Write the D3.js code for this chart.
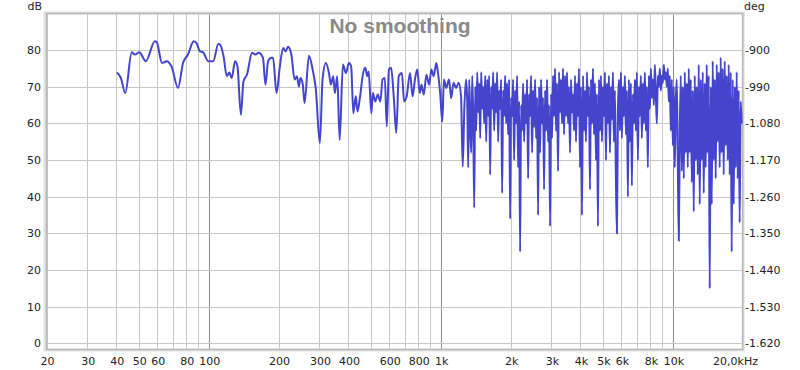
<!DOCTYPE html>
<html><head><meta charset="utf-8">
<script src="https://cdn.jsdelivr.net/npm/d3@7"></script>
<style>body{margin:0;background:#fff}svg{display:block}</style>
</head><body>
<svg id="c" width="800" height="370"></svg>
<script>
// ---- data ----
const title = "No smoothing";
const dbTicks = [0,10,20,30,40,50,60,70,80];
const degLabels = ["-1.620","-1.530","-1.440","-1.350","-1.260","-1.170","-1.080","-990","-900"];
const freqGrid = [20,30,40,50,60,70,80,90,100,200,300,400,500,600,700,800,900,1000,2000,3000,4000,5000,6000,7000,8000,9000,10000,20000];
const freqMajor = [100,1000,10000];
const freqLabelVals = [20,30,40,50,60,80,100,200,300,400,600,800,1000,2000,3000,4000,5000,6000,8000,10000,20000];
const freqLabelText = ["20","30","40","50","60","80","100","200","300","400","600","800","1k","2k","3k","4k","5k","6k","8k","10k","20,0kHz"];

// low-frequency part: explicit frequency / level pairs
const lowFreq = [40.2,41.8,43.7,46.6,48.1,50.2,53.6,58.6,59.7,62.9,65.9,69.1,73.8,77.5,81.4,86.2,88.5,91.6,94.6,99.5,104.6,110,112,115.9,119.7,122.7,125.6,129.9,133,137.6,141.2,146.1,153.8,158.9,164.3,171.3,175.6,180.3,186.3,189.4,196,202.6,209.4,214.3,219.7,227,234.6,240,244.6,248.7,254.4,258.8,270.4,281.4,289.2,301.2,309.4,320,330.6,336.2,344,349.7,358,366.7,378.7,390,402,411,420,430,438,448,463,473,482,489,502,510,522,535,549,561,574,585,598,611,627,643,659,680,695,713,737,756,774,792,812,826,845,867,891,911,932,957,973,995,1015,1032,1056,1085,1109,1135,1164,1195,1223,1243,1264,1285];
const lowDb = [73.9,72.5,68.3,79.4,78.8,79.4,77.0,82.4,82.2,76.5,77.0,75.6,69.7,76.5,78.8,82.4,82.0,79.7,79.4,77.0,77.0,81.7,81.5,78.3,72.9,73.9,72.4,77.0,75.6,62.4,71.5,73.3,79.3,78.8,79.3,77.9,70.6,77.0,77.9,77.9,68.3,75.6,80.6,79.7,80.9,78.8,72.0,72.9,70.1,72.4,70.6,65.6,78.5,74.2,69.7,54.6,72.0,76.5,73.3,70.6,72.9,68.3,72.9,55.5,76.1,73.8,76.5,75.6,62.8,67.4,63.3,66.9,73.8,75.2,72.9,74.2,62.8,68.3,66,67.9,66,72,72.4,59.2,74.7,75.2,67.4,57.4,72.9,73.8,66,67.4,73.8,67.4,72,74.7,68.3,70.6,67.9,73.3,70.6,74.7,72.9,76.5,73.8,67.9,60.5,72,69.7,72,66.9,71.1,69.7,71.1,67.4,48.2,64.6,72];

// high-frequency part: levels on a log grid starting at 1300 Hz, 70 points per octave
const hfStart = 1300;
const hfPointsPerOctave = 70;
const hfDb = [
66,48,72,60,52,73,62,37,70,58,
74,63,71,56,74,64,70,60,73,55,
72,62,73,46,70,64,74,58,71,63,
74,55,69,64,72,41,69,62,73,60,
71,57,72,34,67,62,72,50,69,60,
73,48,66,25,65,58,71,55,68,60,
72,45,68,62,73,52,69,59,72,56,
67,35,70,52,72,60,67,42,69,58,
72,55,65,32,68,56,73,62,75,58,
71,47,74,63,72,60,75,57,73,62,
74,60,70,52,72,63,68,58,73,55,
71,62,75,48,70,35,73,58,69,55,
74,62,70,42,72,60,75,57,71,50,
68,32,72,58,73,55,70,62,74,50,
71,60,73,52,70,61,74,55,69,45,
30,63,72,58,74,56,70,62,73,57,
69,40,72,55,71,43,68,60,72,58,
74,50,70,62,73,56,71,60,74,58,
70,48,73,64,75,67,72,65,76,68,
60,73,70,75,69,73,71,76,72,74,
70,75,66,73,58,72,54,70,48,66,
72,50,28,58,73,47,70,45,74,52,
71,48,75,52,72,44,69,36,73,50,
70,46,76,38,72,50,74,41,71,48,
76,52,73,15,70,38,77,50,72,45,
76,55,74,48,78,52,75,46,77,54,
73,50,76,46,74,25,72,38,70,48,
74,45,69,33,66,60];

// ---- build ----
const pts = lowFreq.map((f,i)=>({f, v: lowDb[i]}));
hfDb.forEach((v,i)=>pts.push({f: hfStart*Math.pow(2, i/hfPointsPerOctave), v}));

const svg = d3.select("#c");
const L=46.5, R=742.7, T=13.5, B=349.5;
const x = d3.scaleLog().domain([20,20000]).range([L,R]);
const y = d3.scaleLinear().domain([-1.64,90]).range([B,T]);
const font = "'DejaVu Sans', Verdana, sans-serif";

// grid
const g = svg.append("g");
g.selectAll("line.v").data(freqGrid).enter().append("line")
  .attr("x1",d=>Math.round(x(d))+0.5).attr("x2",d=>Math.round(x(d))+0.5)
  .attr("y1",T).attr("y2",B)
  .attr("stroke",d=>freqMajor.includes(d)?"#8c8c8c":"#c8c8c8").attr("stroke-width",1);
g.selectAll("line.h").data(dbTicks).enter().append("line")
  .attr("x1",L).attr("x2",R)
  .attr("y1",d=>Math.round(y(d))+0.5).attr("y2",d=>Math.round(y(d))+0.5)
  .attr("stroke","#c8c8c8").attr("stroke-width",1);

// frame
svg.append("rect").attr("x",L-1.5).attr("y",T-0.5).attr("width",R-L+2).attr("height",B-T+1)
  .attr("fill","none").attr("stroke","#e2e2e2").attr("stroke-width",3);
svg.append("rect").attr("x",L).attr("y",T).attr("width",R-L).attr("height",B-T)
  .attr("fill","none").attr("stroke","#b8b8b8").attr("stroke-width",1.5);

// curve
const line = d3.line().curve(d3.curveMonotoneX).x(d=>x(d.f)).y(d=>y(d.v));
svg.append("path").datum(pts).attr("d",line)
  .attr("fill","none").attr("stroke","#4444cc").attr("stroke-width",2).attr("stroke-linejoin","round");

// left labels
svg.selectAll("text.l").data(dbTicks).enter().append("text")
  .attr("x",41).attr("y",d=>y(d)+4).attr("text-anchor","end")
  .attr("font-family",font).attr("font-size",11).attr("fill","#222").text(d=>d);
svg.append("text").attr("x",42).attr("y",10).attr("text-anchor","end")
  .attr("font-family",font).attr("font-size",11).attr("fill","#222").text("dB");
// right labels
svg.selectAll("text.r").data(dbTicks).enter().append("text")
  .attr("x",745).attr("y",(d,i)=>y(d)+4).attr("text-anchor","start")
  .attr("font-family",font).attr("font-size",11).attr("fill","#222").text((d,i)=>degLabels[i]);
svg.append("text").attr("x",744).attr("y",10).attr("text-anchor","start")
  .attr("font-family",font).attr("font-size",11).attr("fill","#222").text("deg");
// bottom labels
svg.selectAll("text.b").data(freqLabelVals).enter().append("text")
  .attr("x",(d,i)=> d===20000 ? 758 : x(d)+1).attr("y",365)
  .attr("text-anchor",d=> d===20000 ? "end" : "middle")
  .attr("font-family",font).attr("font-size",11).attr("fill","#222").text((d,i)=>freqLabelText[i]);
// title
svg.append("text").attr("x",400).attr("y",33).attr("text-anchor","middle")
  .attr("font-family","'Liberation Sans', Arial, sans-serif").attr("font-weight","bold")
  .attr("font-size",21).attr("fill","#8a8a8a").text(title);
</script>
</body></html>
